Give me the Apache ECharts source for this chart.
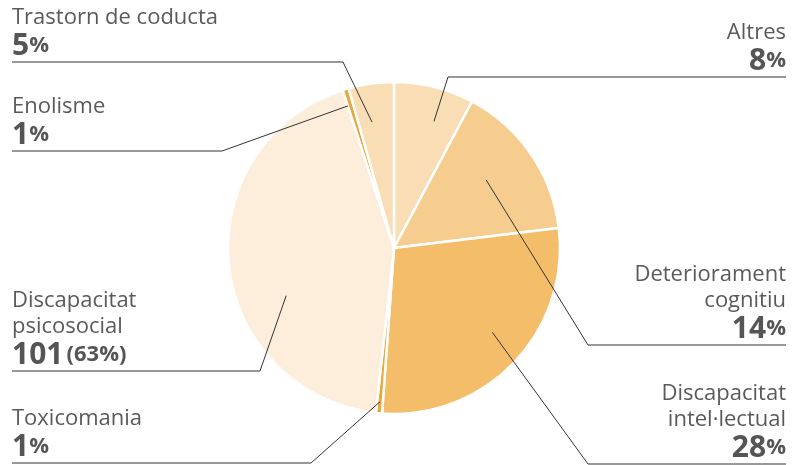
<!DOCTYPE html>
<html>
<head>
<meta charset="utf-8">
<script src="https://cdn.jsdelivr.net/npm/echarts@6/dist/echarts.min.js"></script>
<style>
  html, body { margin: 0; padding: 0; background: #fff; }
  #chart { width: 801px; height: 465px; }
</style>
</head>
<body>
<div id="chart"></div>
<script>
// slice order clockwise from 12 o'clock
const categories = ['Altres', 'Deteriorament\ncognitiu', 'Discapacitat\nintel·lectual', 'Toxicomania',
  'Discapacitat\npsicosocial', 'Enolisme', 'Trastorn de coducta'];
const shares = [7.8, 15.3, 28.1, 0.6, 43.3, 0.6, 4.4];
const labelValues = ['8', '14', '28', '1', '101', '1', '5'];
const labelSuffix = ['%', '%', '%', '%', '(63%)', '%', '%'];
const colors = ['#F9DDB4', '#F6CD8F', '#F3BD69', '#EAA73C', '#FDEDDB', '#EAA73C', '#F9DDB4'];

// label placement: side, underline y, bend x, leader start (radius fraction, angle shift in deg)
const placement = [
  { side: 'right', lineY: 77, bendX: 448, frac: 0.80, shift: 3.5 },
  { side: 'right', lineY: 345, bendX: 588, frac: 0.69, shift: -2 },
  { side: 'right', lineY: 464, bendX: 588, frac: 0.78, shift: -3 },
  { side: 'left', lineY: 463, bendX: 311, frac: 0.93, shift: 0 },
  { side: 'left', lineY: 371, bendX: 260, frac: 0.71, shift: -18 },
  { side: 'left', lineY: 151, bendX: 222, frac: 0.90, shift: -1 },
  { side: 'left', lineY: 62, bendX: 343, frac: 0.77, shift: -2 }
];

const CX = 394, CY = 248, R = 166;
const LEFT_X = 12, RIGHT_X = 786;
const FONT = 'Open Sans';

const total = shares.reduce((a, b) => a + b, 0);
const midAngles = [];
let acc = 0;
shares.forEach(v => {
  midAngles.push((acc + v / 2) / total * 360);
  acc += v;
});

const chart = echarts.init(document.getElementById('chart'), null, { renderer: 'canvas' });

const base = {
  type: 'pie',
  center: [CX, CY],
  radius: [0, R],
  startAngle: 90,
  clockwise: true,
  avoidLabelOverlap: false,
  emphasis: { disabled: true },
  silent: true
};

chart.setOption({
  animation: false,
  series: [
    // coloured slices
    Object.assign({}, base, {
      z: 2,
      itemStyle: { borderColor: '#fff', borderWidth: 2.5 },
      label: { show: false },
      labelLine: { show: false },
      data: categories.map((name, i) => ({
        name: name,
        value: shares[i],
        itemStyle: { color: colors[i] }
      }))
    }),
    // transparent copy on top that carries the labels and leader lines
    Object.assign({}, base, {
      z: 3,
      itemStyle: { color: 'rgba(0,0,0,0)', borderWidth: 0 },
      label: {
        position: 'outside',
        color: '#5a5a5a',
        fontFamily: FONT,
        formatter: p => {
          const i = p.dataIndex;
          const names = categories[i].split('\n').map(s => '{n|' + s + '}').join('\n');
          const suf = i === 4 ? ' {p|' + labelSuffix[i] + '}' : '{p|' + labelSuffix[i] + '}';
          return names + '\n{v|' + labelValues[i] + '}' + suf;
        },
        rich: {
          n: { fontSize: 22, lineHeight: 26, color: '#5a5a5a', fontFamily: FONT },
          v: { fontSize: 30, lineHeight: 30, fontWeight: 'bold', color: '#555', fontFamily: FONT },
          p: { fontSize: 22, lineHeight: 30, fontWeight: 'bold', color: '#555', fontFamily: FONT }
        }
      },
      labelLine: {
        show: true,
        lineStyle: { color: '#333', width: 1 }
      },
      labelLayout: params => {
        const i = params.dataIndex;
        const L = placement[i];
        const a = (midAngles[i] + L.shift) * Math.PI / 180;
        const start = [CX + Math.sin(a) * R * L.frac, CY - Math.cos(a) * R * L.frac];
        const endX = L.side === 'left' ? LEFT_X : RIGHT_X;
        return {
          x: endX,
          y: L.lineY - 1,
          align: L.side,
          verticalAlign: 'bottom',
          labelLinePoints: [start, [L.bendX, L.lineY], [endX, L.lineY]]
        };
      },
      data: categories.map((name, i) => ({ name: name, value: shares[i] }))
    })
  ]
});
</script>
</body>
</html>
